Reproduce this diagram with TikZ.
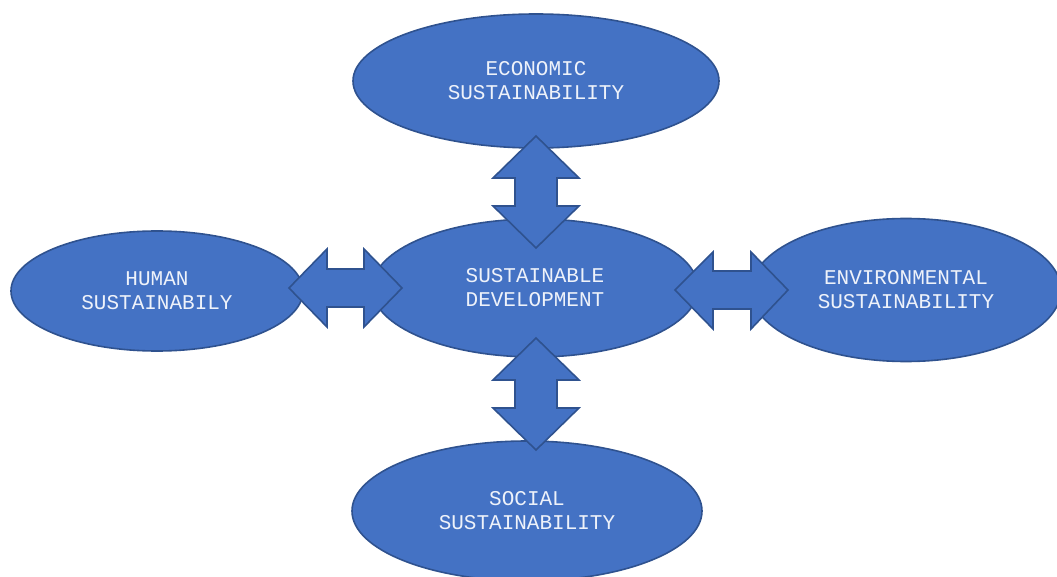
\documentclass[tikz,border=0pt]{standalone}
\usepackage{fontspec}
\setmonofont{Liberation Mono}
\usetikzlibrary{shapes.geometric}
\definecolor{fillblue}{HTML}{4472C4}
\definecolor{edgeblue}{HTML}{2F528F}
\definecolor{txt}{HTML}{EEF2FA}
\tikzset{
  oval/.style={ellipse, fill=fillblue, draw=edgeblue, line width=1.6pt, inner sep=0pt,
    text=txt, font=\ttfamily\fontsize{21}{24}\selectfont, align=center},
  blockarrow/.style={fill=fillblue, draw=edgeblue, line width=1.6pt, line join=miter}
}
\begin{document}
\begin{tikzpicture}[x=1pt,y=-1pt]
\useasboundingbox (0,0) rectangle (1057,577);
\clip (0,0) rectangle (1057,577);
\node[oval, minimum width=366pt, minimum height=134pt] (eco) at (536,81) {ECONOMIC\\SUSTAINABILITY};
\node[oval, minimum width=326pt, minimum height=138pt] (sd) at (535,288) {SUSTAINABLE\\DEVELOPMENT};
\node[oval, minimum width=292pt, minimum height=120pt] (hum) at (157,291) {HUMAN\\SUSTAINABILY};
\node[oval, minimum width=310pt, minimum height=143pt] (env) at (906,290) {ENVIRONMENTAL\\SUSTAINABILITY};
\node[oval, minimum width=350pt, minimum height=140pt] (soc) at (527,511) {SOCIAL\\SUSTAINABILITY};
% top vertical arrow
\draw[blockarrow] (536,136) -- (579,178) -- (557,178) -- (557,206) -- (579,206) -- (536,248)
  -- (493,206) -- (515,206) -- (515,178) -- (493,178) -- cycle;
% bottom vertical arrow
\draw[blockarrow] (536,338) -- (579,380) -- (557,380) -- (557,408) -- (579,408) -- (536,450)
  -- (493,408) -- (515,408) -- (515,380) -- (493,380) -- cycle;
% left horizontal arrow
\draw[blockarrow] (289,288) -- (327,249) -- (327,269) -- (364,269) -- (364,249) -- (402,288)
  -- (364,327) -- (364,307) -- (327,307) -- (327,327) -- cycle;
% right horizontal arrow
\draw[blockarrow] (675,290) -- (713,252) -- (713,271) -- (751,271) -- (751,252) -- (788,290)
  -- (751,329) -- (751,309) -- (713,309) -- (713,329) -- cycle;
\end{tikzpicture}
\end{document}
